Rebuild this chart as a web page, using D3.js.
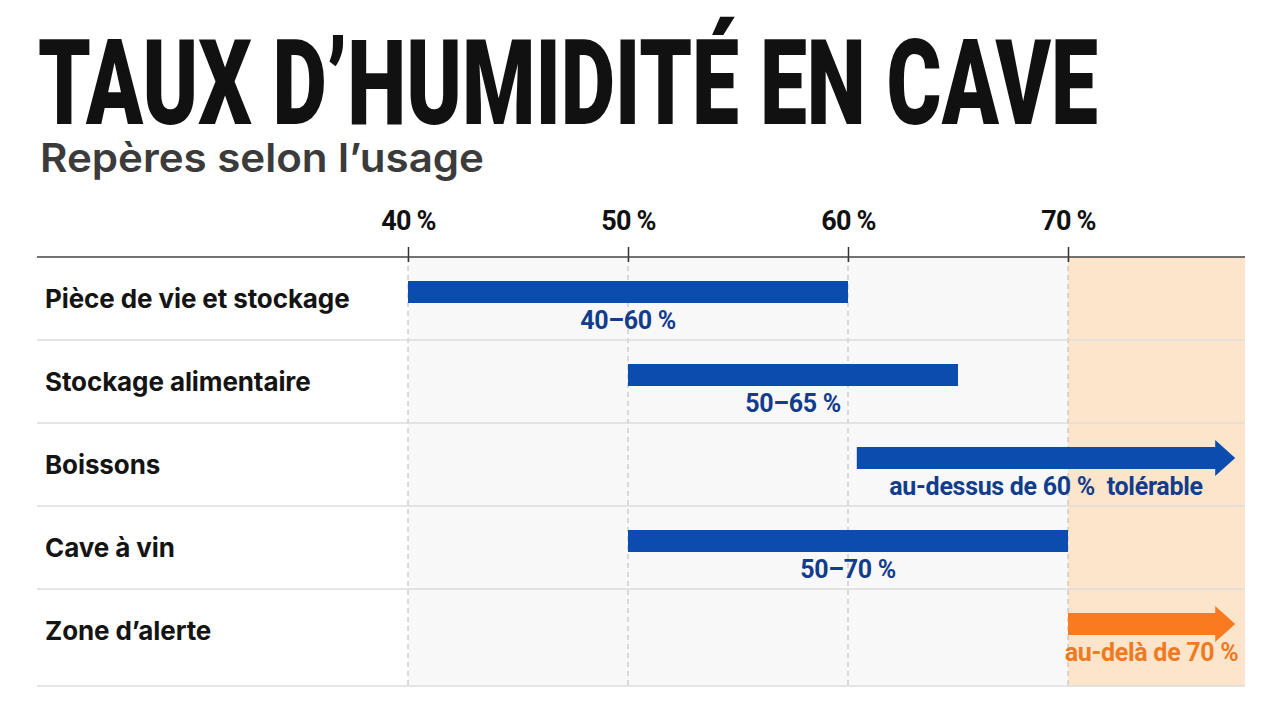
<!DOCTYPE html>
<html><head><meta charset="utf-8">
<script src="https://cdn.jsdelivr.net/npm/d3@7"></script>
<style>html,body{margin:0;padding:0;background:#fff}</style>
</head><body>
<svg id="chart" width="1280" height="720"></svg>
<script>
const title = "TAUX D\u2019HUMIDITÉ EN CAVE";
const subtitle = "Repères selon l\u2019usage";
const categories = ["Pièce de vie et stockage","Stockage alimentaire","Boissons","Cave à vin","Zone d\u2019alerte"];
const starts = [40, 50, 60.4, 50, 70];
const ends = [60, 65, 77.6, 70, 77.6];
const isArrow = [false, false, true, false, true];
const barLabels = ["40\u201360 %","50\u201365 %","au-dessus de 60 %\u00a0 tolérable","50\u201370 %","au-delà de 70 %"];
const barKinds = ["ok","ok","ok","ok","alert"];
const tickValues = [40, 50, 60, 70];
const tickLabels = ["40 %","50 %","60 %","70 %"];
const alertFrom = 70;
const domain = [40, 78];

const W = 1280, H = 720;
const left = 37, plotRight = 1245, axisY = 257, rowsBottom = 672, plotBottom = 686;
const svg = d3.select("#chart");
const x = d3.scaleLinear().domain(domain).range([408, 1244]);
const y = d3.scaleBand().domain(categories).range([axisY, rowsBottom]);
const fill = {ok:"#0a4daf", alert:"#f97a1f"};
const textFill = {ok:"#123c8c", alert:"#f07a22"};

// title
svg.append("text").attr("x", 38).attr("y", 124)
  .attr("font-family", "Roboto, 'Liberation Sans', sans-serif").attr("font-weight", 900)
  .attr("font-size", 118).attr("fill", "#111")
  .attr("textLength", 1060).attr("lengthAdjust", "spacingAndGlyphs")
  .text(title);
svg.append("text").attr("x", 40).attr("y", 172)
  .attr("font-family", "Inter, Roboto, sans-serif").attr("font-weight", 600)
  .attr("font-size", 40).attr("fill", "#3b3b3b")
  .attr("textLength", 444).attr("lengthAdjust", "spacingAndGlyphs")
  .text(subtitle);

// backgrounds
svg.append("rect").attr("x", x(domain[0])).attr("y", axisY)
  .attr("width", x(alertFrom) - x(domain[0])).attr("height", plotBottom - axisY).attr("fill", "#f8f8f8");
svg.append("rect").attr("x", x(alertFrom)).attr("y", axisY)
  .attr("width", plotRight - x(alertFrom)).attr("height", plotBottom - axisY).attr("fill", "#fde5cb");

// dashed grid
svg.append("g").selectAll("line").data(tickValues).join("line")
  .attr("x1", d => x(d)).attr("x2", d => x(d)).attr("y1", axisY).attr("y2", plotBottom)
  .attr("stroke", "#b8b8b8").attr("stroke-width", 1).attr("stroke-dasharray", "5,4");

// row separators
svg.append("g").selectAll("line").data(categories.slice(1)).join("line")
  .attr("x1", left).attr("x2", plotRight).attr("y1", d => y(d)).attr("y2", d => y(d))
  .attr("stroke", "#dcdcdc").attr("stroke-width", 1.5);
svg.append("line").attr("x1", left).attr("x2", plotRight).attr("y1", plotBottom).attr("y2", plotBottom)
  .attr("stroke", "#dcdcdc").attr("stroke-width", 1.5);

// top axis
const axis = d3.axisTop(x).tickValues(tickValues).tickSize(15).tickSizeOuter(0)
  .tickFormat((d, i) => tickLabels[i]).tickPadding(17);
const ag = svg.append("g").attr("transform", `translate(0,${axisY + 5})`).call(axis);
ag.select(".domain").remove();
ag.selectAll(".tick line").attr("stroke", "#333").attr("stroke-width", 1.5);
ag.selectAll(".tick text").attr("font-family", "Roboto, sans-serif").attr("font-weight", 700)
  .attr("font-size", 27).attr("fill", "#111").attr("letter-spacing", -0.8);
svg.append("line").attr("x1", left).attr("x2", plotRight).attr("y1", axisY).attr("y2", axisY)
  .attr("stroke", "#444").attr("stroke-width", 1.5);

// category labels
svg.append("g").selectAll("text").data(categories).join("text")
  .attr("x", 45).attr("y", d => y(d) + y.bandwidth() / 2 + 9)
  .attr("font-family", "Inter, Roboto, sans-serif").attr("font-weight", 700)
  .attr("font-size", 26).attr("fill", "#141414").attr("letter-spacing", -0.1)
  .text(d => d);

// bars
const rows = categories.map((c, i) => ({c, s: starts[i], e: ends[i], arrow: isArrow[i], label: barLabels[i], kind: barKinds[i]}));
const barH = 22, barOff = 24, headH = 36, headL = 20;
const bg = svg.append("g");
bg.selectAll("path").data(rows).join("path")
  .attr("fill", d => fill[d.kind])
  .attr("d", d => {
    const x0 = x(d.s), x1 = x(d.e), t = y(d.c) + barOff, b = t + barH, m = t + barH / 2;
    if (!d.arrow) return `M${x0},${t}H${x1}V${b}H${x0}Z`;
    const xs = x1 - headL;
    return `M${x0},${t}H${xs}V${m - headH / 2}L${x1},${m}L${xs},${m + headH / 2}V${b}H${x0}Z`;
  });
bg.selectAll("text").data(rows).join("text")
  .attr("x", d => (x(d.s) + x(d.e)) / 2).attr("y", d => y(d.c) + 72)
  .attr("text-anchor", "middle")
  .attr("font-family", "Roboto, sans-serif").attr("font-weight", 700)
  .attr("font-size", 25).attr("fill", d => textFill[d.kind]).attr("letter-spacing", -0.3)
  .text(d => d.label);
</script>
</body></html>
